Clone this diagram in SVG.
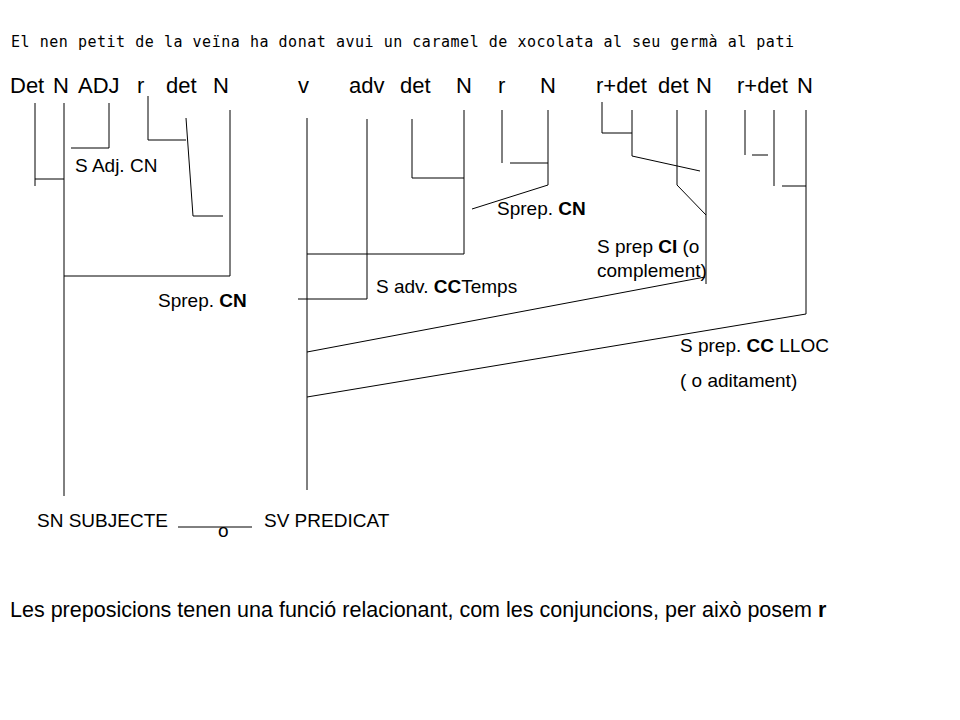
<svg xmlns="http://www.w3.org/2000/svg" width="960" height="720" viewBox="0 0 960 720">
<style>
.mono{font-family:"DejaVu Sans Mono","Liberation Mono",monospace;font-size:15px;fill:#000}
.cat{font-family:"Liberation Sans",Arial,sans-serif;font-size:22px;fill:#000}
.lbl{font-family:"Liberation Sans",Arial,sans-serif;font-size:19px;fill:#000}
.note{font-family:"Liberation Sans",Arial,sans-serif;font-size:21.5px;fill:#000}
.b{font-weight:bold}
.ln{stroke:#000;stroke-width:1;fill:none}
</style>
<rect width="960" height="720" fill="#fff"/>
<g id="sentence"><text class="mono" x="11" y="47" textLength="783">El nen petit de la veïna ha donat avui un caramel de xocolata al seu germà al pati</text></g>
<g id="categories">
<text class="cat" x="10" y="93">Det</text>
<text class="cat" x="53" y="93">N</text>
<text class="cat" x="78" y="93">ADJ</text>
<text class="cat" x="137" y="93">r</text>
<text class="cat" x="166" y="93">det</text>
<text class="cat" x="213" y="93">N</text>
<text class="cat" x="298" y="93">v</text>
<text class="cat" x="349" y="93">adv</text>
<text class="cat" x="400" y="93">det</text>
<text class="cat" x="456" y="93">N</text>
<text class="cat" x="498" y="93">r</text>
<text class="cat" x="540" y="93">N</text>
<text class="cat" x="596" y="93">r+det</text>
<text class="cat" x="658" y="93">det</text>
<text class="cat" x="696" y="93">N</text>
<text class="cat" x="737" y="93">r+det</text>
<text class="cat" x="797" y="93">N</text>
</g>
<g id="connectors" class="ln">
<path d="M35 103V186M35 179H64"/>
<path d="M64 103V496"/>
<path d="M109 103V148M71 148H109"/>
<path d="M148 96V140H186"/>
<path d="M186 118L193 216H223"/>
<path d="M230 110V276H64"/>
<path d="M307 118V490"/>
<path d="M367 119V299H298"/>
<path d="M412 119V178H464"/>
<path d="M464 110V254H307"/>
<path d="M502 110V163"/>
<path d="M510 163H548"/>
<path d="M548 110V185L472 209"/>
<path d="M602 102V133H632"/>
<path d="M632 110V156L700 171"/>
<path d="M677 110V185L706 215"/>
<path d="M706 110V284"/>
<path d="M705 277L307 352"/>
<path d="M745 110V155M752 155H768"/>
<path d="M774 110V186M782 186H806"/>
<path d="M806 110V314L307 397"/>
<path d="M178 527H252"/>
</g>
<g id="label-sadj"><text class="lbl" x="75" y="172">S Adj. CN</text></g>
<g id="label-sprep-left"><text class="lbl" x="158" y="307">Sprep. <tspan class="b">CN</tspan></text></g>
<g id="label-sprep-right"><text class="lbl" x="497" y="215">Sprep. <tspan class="b">CN</tspan></text></g>
<g id="label-sadv"><text class="lbl" x="376" y="293">S adv. <tspan class="b">CC</tspan>Temps</text></g>
<g id="label-ci"><text class="lbl" x="597" y="253">S prep <tspan class="b">CI</tspan> (o</text><text class="lbl" x="597" y="277">complement)</text></g>
<g id="label-cc"><text class="lbl" x="680" y="352">S prep. <tspan class="b">CC</tspan> LLOC</text><text class="lbl" x="680" y="387">( o aditament)</text></g>
<g id="subject"><text class="lbl" x="37" y="527">SN SUBJECTE</text></g>
<g id="link-o"><text class="lbl" x="218" y="537">o</text></g>
<g id="predicate"><text class="lbl" x="264" y="527">SV PREDICAT</text></g>
<g id="note"><text class="note" x="10" y="617">Les preposicions tenen una funció relacionant, com les conjuncions, per això posem <tspan class="b">r</tspan></text></g>
</svg>
